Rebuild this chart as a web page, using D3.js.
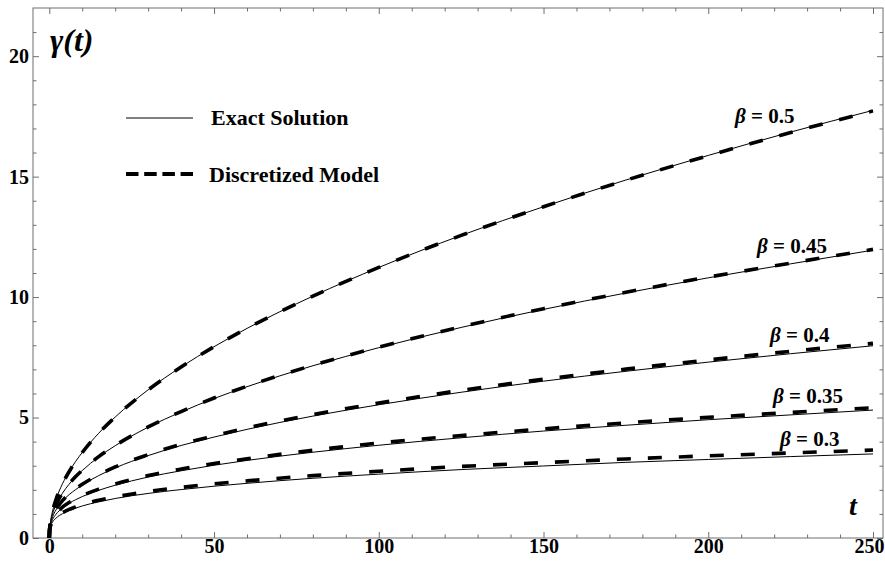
<!DOCTYPE html>
<html>
<head>
<meta charset="utf-8">
<script src="https://cdn.jsdelivr.net/npm/d3@7"></script>
<style>
  html, body { margin: 0; padding: 0; background: #fff; }
  svg { display: block; }
  text { font-family: "Liberation Serif", "Times New Roman", serif; font-weight: bold; }
</style>
</head>
<body>
<svg id="chart" width="885" height="563"></svg>
<script>
// ---------- data ----------
const tValues = [0, 0.1, 0.25, 0.5, 1, 2, 3, 4, 6, 8, 10, 15, 20, 30, 40, 50, 60, 80, 100, 125, 150, 175, 200, 225, 250];

const exact050 = [0, 0.36, 0.56, 0.79, 1.12, 1.59, 1.95, 2.25, 2.75, 3.18, 3.55, 4.35, 5.02, 6.15, 7.10, 7.94, 8.70, 10.04, 11.23, 12.56, 13.75, 14.86, 15.88, 16.85, 17.75];
const disc050  = [0, 0.36, 0.56, 0.79, 1.12, 1.59, 1.95, 2.25, 2.75, 3.18, 3.55, 4.35, 5.02, 6.15, 7.10, 7.94, 8.70, 10.04, 11.23, 12.56, 13.75, 14.85, 15.87, 16.83, 17.73];
const exact045 = [0, 0.35, 0.53, 0.73, 1.00, 1.36, 1.63, 1.86, 2.23, 2.54, 2.80, 3.37, 3.83, 4.60, 5.23, 5.79, 6.28, 7.15, 7.90, 8.74, 9.49, 10.17, 10.80, 11.38, 11.95];
const disc045  = [0, 0.35, 0.54, 0.73, 1.00, 1.37, 1.64, 1.87, 2.24, 2.55, 2.81, 3.38, 3.84, 4.61, 5.25, 5.81, 6.30, 7.17, 7.92, 8.77, 9.52, 10.20, 10.83, 11.41, 11.98];
const exact040 = [0, 0.35, 0.50, 0.66, 0.88, 1.16, 1.36, 1.53, 1.80, 2.01, 2.20, 2.59, 2.91, 3.42, 3.84, 4.19, 4.51, 5.06, 5.53, 6.05, 6.51, 6.92, 7.30, 7.65, 7.98];
const disc040  = [0, 0.35, 0.50, 0.67, 0.89, 1.17, 1.38, 1.55, 1.82, 2.04, 2.23, 2.62, 2.95, 3.46, 3.89, 4.24, 4.57, 5.12, 5.60, 6.13, 6.59, 7.01, 7.39, 7.75, 8.08];
const exact035 = [0, 0.34, 0.47, 0.60, 0.77, 0.98, 1.13, 1.25, 1.44, 1.59, 1.72, 1.98, 2.19, 2.53, 2.79, 3.02, 3.22, 3.56, 3.85, 4.16, 4.44, 4.68, 4.91, 5.11, 5.31];
const disc035  = [0, 0.35, 0.47, 0.61, 0.78, 1.00, 1.15, 1.28, 1.47, 1.63, 1.76, 2.03, 2.24, 2.59, 2.86, 3.09, 3.29, 3.64, 3.94, 4.25, 4.53, 4.78, 5.01, 5.21, 5.41];
const exact030 = [0, 0.33, 0.44, 0.54, 0.67, 0.82, 0.93, 1.01, 1.14, 1.24, 1.33, 1.50, 1.64, 1.85, 2.01, 2.15, 2.27, 2.48, 2.65, 2.84, 2.99, 3.14, 3.26, 3.38, 3.49];
const disc030  = [0, 0.34, 0.44, 0.55, 0.68, 0.84, 0.96, 1.05, 1.19, 1.29, 1.39, 1.57, 1.71, 1.93, 2.10, 2.25, 2.37, 2.59, 2.77, 2.97, 3.13, 3.28, 3.41, 3.53, 3.65];

const betaLabels = ["0.5", "0.45", "0.4", "0.35", "0.3"];
const xMajorTicks = [0, 50, 100, 150, 200, 250];
const xMinorTicks = [10, 20, 30, 40, 60, 70, 80, 90, 110, 120, 130, 140, 160, 170, 180, 190, 210, 220, 230, 240];
const yMajorTicks = [0, 5, 10, 15, 20];
const yMinorTicks = [1, 2, 3, 4, 6, 7, 8, 9, 11, 12, 13, 14, 16, 17, 18, 19, 21];
const legendNames = ["Exact Solution", "Discretized Model"];

// ---------- layout ----------
const svg = d3.select("#chart");
const frame = { left: 33, right: 883, top: 8, bottom: 538 };
const x = d3.scaleLinear().domain([0, 250]).range([49.3, 873]);
const y = d3.scaleLinear().domain([0, 22]).range([538, 8]);
const frameColor = "#6e6e6e";

// frame
svg.append("rect")
  .attr("x", frame.left).attr("y", frame.top)
  .attr("width", frame.right - frame.left).attr("height", frame.bottom - frame.top)
  .attr("fill", "none").attr("stroke", frameColor).attr("stroke-width", 1);

function styleAxis(g) {
  g.select(".domain").remove();
  g.selectAll(".tick line").attr("stroke", frameColor);
  g.selectAll(".tick text").attr("fill", "#000")
    .style("font-family", '"Liberation Serif", serif').style("font-weight", "bold").style("font-size", "20px");
}

// bottom
const gBottom = svg.append("g").attr("transform", `translate(0,${frame.bottom})`)
  .call(d3.axisBottom(x).tickValues(xMajorTicks).tickSize(-6).tickSizeOuter(0).tickPadding(1).tickFormat(d3.format("d")))
  .call(styleAxis);
gBottom.selectAll(".tick text").filter(d => d === 250).attr("text-anchor", "end").attr("dx", "0").attr("x", 11);
svg.append("g").attr("transform", `translate(0,${frame.bottom})`)
  .call(d3.axisBottom(x).tickValues(xMinorTicks).tickSize(-3.5).tickSizeOuter(0).tickFormat(""))
  .call(styleAxis);
// top
svg.append("g").attr("transform", `translate(0,${frame.top})`)
  .call(d3.axisTop(x).tickValues(xMajorTicks).tickSize(-6).tickSizeOuter(0).tickFormat(""))
  .call(styleAxis);
svg.append("g").attr("transform", `translate(0,${frame.top})`)
  .call(d3.axisTop(x).tickValues(xMinorTicks).tickSize(-3.5).tickSizeOuter(0).tickFormat(""))
  .call(styleAxis);
// left
svg.append("g").attr("transform", `translate(${frame.left},0)`)
  .call(d3.axisLeft(y).tickValues(yMajorTicks).tickSize(-6).tickSizeOuter(0).tickPadding(4).tickFormat(d3.format("d")))
  .call(styleAxis);
svg.append("g").attr("transform", `translate(${frame.left},0)`)
  .call(d3.axisLeft(y).tickValues(yMinorTicks).tickSize(-3.5).tickSizeOuter(0).tickFormat(""))
  .call(styleAxis);
// right
svg.append("g").attr("transform", `translate(${frame.right},0)`)
  .call(d3.axisRight(y).tickValues(yMajorTicks).tickSize(-6).tickSizeOuter(0).tickFormat(""))
  .call(styleAxis);
svg.append("g").attr("transform", `translate(${frame.right},0)`)
  .call(d3.axisRight(y).tickValues(yMinorTicks).tickSize(-3.5).tickSizeOuter(0).tickFormat(""))
  .call(styleAxis);

// ---------- curves ----------
const discSeries = [disc050, disc045, disc040, disc035, disc030];
const exactSeries = [exact050, exact045, exact040, exact035, exact030];

const line = d3.line()
  .x((d, i) => x(tValues[i]))
  .y(d => y(d))
  .curve(d3.curveMonotoneX);

const gCurves = svg.append("g");
gCurves.selectAll("path.disc").data(discSeries).join("path")
  .attr("class", "disc")
  .attr("d", line)
  .attr("fill", "none").attr("stroke", "#000")
  .attr("stroke-width", 3.6).attr("stroke-dasharray", "14,17");
gCurves.selectAll("path.exact").data(exactSeries).join("path")
  .attr("class", "exact")
  .attr("d", line)
  .attr("fill", "none").attr("stroke", "#000")
  .attr("stroke-width", 1);

// ---------- beta labels ----------
const betaPos = [
  { x: 735, y: 123 },
  { x: 757, y: 253 },
  { x: 770, y: 342 },
  { x: 773, y: 403 },
  { x: 780, y: 446 }
];
betaLabels.forEach((b, i) => {
  const t = svg.append("text")
    .attr("x", betaPos[i].x).attr("y", betaPos[i].y)
    .style("font-size", "21px").attr("fill", "#000");
  t.append("tspan").style("font-style", "italic").text("β");
  t.append("tspan").text(" = " + b);
});

// ---------- axis labels ----------
svg.append("text").attr("x", 50).attr("y", 51)
  .style("font-size", "32px").style("font-style", "italic").text("γ(t)");
svg.append("text").attr("x", 849).attr("y", 515)
  .style("font-size", "28px").style("font-style", "italic").text("t");

// ---------- legend ----------
svg.append("line").attr("x1", 126).attr("x2", 193).attr("y1", 118).attr("y2", 118)
  .attr("stroke", "#000").attr("stroke-width", 1);
svg.append("line").attr("x1", 126).attr("x2", 193).attr("y1", 174).attr("y2", 174)
  .attr("stroke", "#000").attr("stroke-width", 4).attr("stroke-dasharray", "12.5,5.7");
svg.append("text").attr("x", 211).attr("y", 125).style("font-size", "22px").text(legendNames[0]);
svg.append("text").attr("x", 209).attr("y", 182).style("font-size", "22px").text(legendNames[1]);
</script>
</body>
</html>
